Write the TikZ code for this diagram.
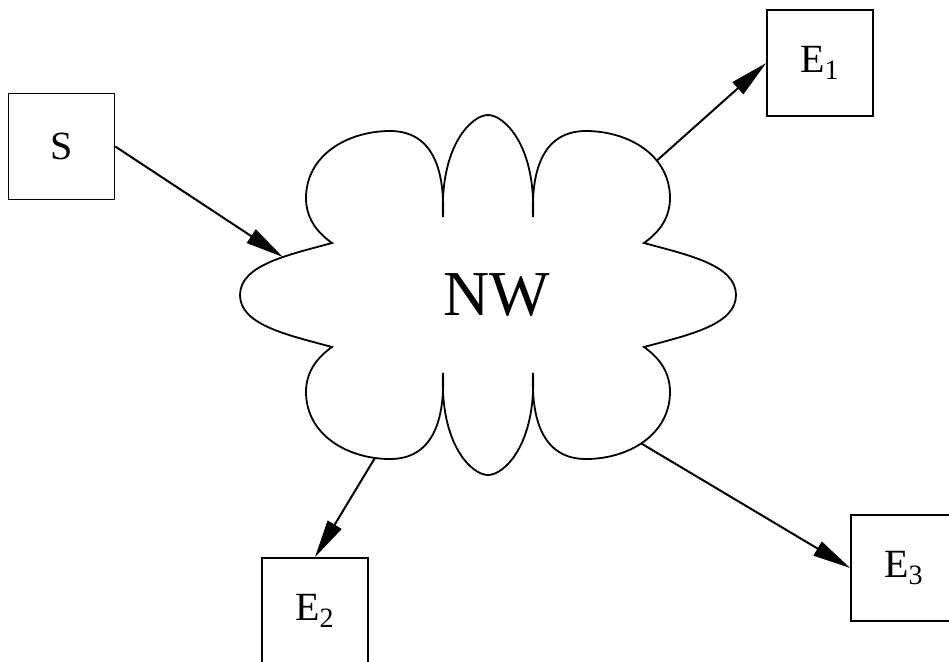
\documentclass[tikz,border=0pt]{standalone}
\usepackage{fontspec}
\setmainfont{Liberation Serif}
\usetikzlibrary{arrows.meta}

\begin{document}
\begin{tikzpicture}[x=0.5pt, y=-0.5pt,
    box/.style={draw, line width=0.8pt, minimum width=53pt, minimum height=53pt,
      inner sep=0pt, font=\fontsize{20}{24}\selectfont},
    link/.style={line width=1pt, -{Triangle[length=19pt, width=8pt]}}]
    \useasboundingbox (0,0) rectangle (949,661);
    \node[box] (s) at (61.5,146.5) {S};
    \node[box] (e1) at (820,63) {E\textsubscript{1}};
    \node[box] (e2) at (315,611) {E\textsubscript{2}};
    \node[box] (e3) at (904,568) {E\textsubscript{3}};
    % network cloud, eight lobes
    \draw[line width=0.9pt] (488,115)
      .. controls (472,115) and (440,145) .. (443,217)
      .. controls (445,165) and (430,131) .. (390,131)
      .. controls (348,131) and (305,155) .. (306,200)
      .. controls (307,220) and (318,233) .. (332,243)
      .. controls (288,255) and (240,265) .. (240,295) coordinate[pos=0.38] (in)
      .. controls (240,325) and (288,335) .. (332,347)
      .. controls (318,357) and (307,370) .. (306,390)
      .. controls (305,435) and (348,459) .. (390,459) coordinate[pos=0.88] (out2)
      .. controls (430,459) and (445,425) .. (443,373)
      .. controls (440,445) and (472,475) .. (488,475)
      .. controls (504,475) and (536,445) .. (533,373)
      .. controls (531,425) and (546,459) .. (586,459)
      .. controls (628,459) and (671,435) .. (670,390) coordinate[pos=0.47] (out3)
      .. controls (669,370) and (658,357) .. (644,347)
      .. controls (688,335) and (736,325) .. (736,295)
      .. controls (736,265) and (688,255) .. (644,243)
      .. controls (658,233) and (669,220) .. (670,200)
      .. controls (671,155) and (628,131) .. (586,131) coordinate[pos=0.35] (out1)
      .. controls (546,131) and (531,165) .. (533,217)
      .. controls (536,145) and (504,115) .. (488,115) -- cycle;
    \node (nw) at (497,295) {\fontsize{32}{38}\selectfont NW};
    \draw[link] (s.east) -- (in);
    \draw[link] (out1) -- (e1.west);
    \draw[link] (out2) -- (e2.north);
    \draw[link] (out3) -- (e3.west);
\end{tikzpicture}
\end{document}
